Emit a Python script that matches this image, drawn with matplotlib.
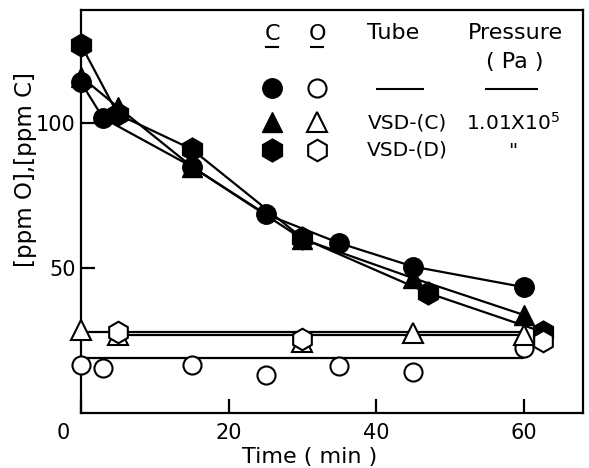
import matplotlib
matplotlib.use("Agg")
import matplotlib.pyplot as plt
import matplotlib.transforms as mtransforms
from matplotlib.lines import Line2D

plt.rcParams['font.family'] = ['DejaVu Sans']

# ---- data ----
t_circ_C = [0, 3, 15, 25, 35, 45, 60]
y_circ_C = [114, 101.7, 85, 68.6, 58.6, 50.5, 43.4]
t_tri_C = [0, 5, 15, 30, 45, 60]
y_tri_C = [116, 105.5, 85, 60, 46.5, 33.8]
t_hex_C = [0, 5, 15, 30, 47, 62.6]
y_hex_C = [127, 103, 91, 60.3, 41.4, 27.9]

t_circ_O = [0, 3, 15, 25, 35, 45, 60]
y_circ_O = [16.5, 15.5, 16.5, 13.1, 16.2, 14.1, 22.4]
t_tri_O = [0, 5, 30, 45, 60]
y_tri_O = [28.6, 27, 24.5, 27.6, 27]
t_hex_O = [5, 30, 62.6]
y_hex_O = [28, 25.5, 25]

# horizontal fit lines for O series: (level, start, end)
circ_O_fit = (19, 0, 60)
tri_O_fit = (27.8, 0, 60.5)
hex_O_fit = (26.8, 5, 60.5)

xticks = [0, 20, 40, 60]
yticks = [50, 100]

W, H = 589, 468
fig = plt.figure(figsize=(W / 100, H / 100), dpi=100)
ax = fig.add_axes([81 / W, 1 - 413 / H, (583 - 81) / W, (413 - 10) / H])
ax.set_xlim(0, 68)
ax.set_ylim(0, 139)

lw = 1.6
# C curves (filled)
ax.plot(t_circ_C, y_circ_C, '-', color='k', lw=lw, zorder=2)
ax.plot(t_tri_C, y_tri_C, '-', color='k', lw=lw, zorder=2)
ax.plot(t_hex_C, y_hex_C, '-', color='k', lw=lw, zorder=2)
ax.plot(t_circ_C, y_circ_C, 'o', color='k', ms=14, zorder=3, clip_on=False)
ax.plot(t_tri_C, y_tri_C, '^', color='k', ms=14, zorder=3, clip_on=False)
ax.plot(t_hex_C, y_hex_C, 'h', color='k', ms=16.5, zorder=3, clip_on=False)

# O fits
for lev, a, b in (circ_O_fit, tri_O_fit, hex_O_fit):
    ax.hlines(lev, a, b, color='k', lw=lw, zorder=2)
ax.plot(t_circ_O, y_circ_O, 'o', mfc='white', mec='k', mew=1.5, ms=13, zorder=3, clip_on=False)
ax.plot(t_tri_O, y_tri_O, '^', mfc='white', mec='k', mew=1.5, ms=14, zorder=3, clip_on=False)
ax.plot(t_hex_O, y_hex_O, 'h', mfc='white', mec='k', mew=1.5, ms=15.5, zorder=3, clip_on=False)

# axes styling
for s in ax.spines.values():
    s.set_linewidth(1.6)
ax.set_xticks(xticks)
ax.set_yticks(yticks)
ax.set_xticklabels([str(v) for v in xticks])
ax.set_yticklabels([str(v) for v in yticks])
ax.tick_params(direction='in', length=10, width=1.6, labelsize=15, pad=4)
ax.tick_params(axis='x', pad=7)
# shift the "0" label left like the reference
lbl0 = ax.get_xticklabels()[0]
lbl0.set_transform(lbl0.get_transform() + mtransforms.ScaledTranslation(-18 / 100, 0, fig.dpi_scale_trans))

ax.set_xlabel('Time ( min )', fontsize=16)
ax.xaxis.set_label_coords((310 - 81) / (583 - 81), -0.085)
ax.set_ylabel('[ppm O],[ppm C]', fontsize=16.5)
ax.yaxis.set_label_coords(-0.088, (413 - 170) / 403)


# ---- legend table (figure pixel coords) ----
def fx(x):
    return x / W


def fy(y):
    return 1 - y / H


fs = 14.5
fh = 16
tf = fig.transFigure
fig.text(fx(272), fy(34), 'C', fontsize=fh, ha='center', va='center')
fig.text(fx(317), fy(34), 'O', fontsize=fh, ha='center', va='center')
fig.text(fx(393), fy(33), 'Tube', fontsize=fh, ha='center', va='center')
fig.text(fx(515), fy(33), 'Pressure', fontsize=fh, ha='center', va='center')
fig.text(fx(515), fy(62), '( Pa )', fontsize=fh, ha='center', va='center')
for xc in (272, 317):
    fig.add_artist(Line2D([fx(xc - 6), fx(xc + 6)], [fy(47), fy(47)], color='k', lw=1.5, transform=tf))
fig.add_artist(Line2D([fx(377), fx(423)], [fy(89), fy(89)], color='k', lw=1.5, transform=tf))
fig.add_artist(Line2D([fx(486), fx(537)], [fy(89), fy(89)], color='k', lw=1.5, transform=tf))

rows_y = [88, 122, 150]
mk = ['o', '^', 'h']
msz_f = [14, 14, 16.5]
msz_o = [13, 14, 15.5]
for yy, m, a, b in zip(rows_y, mk, msz_f, msz_o):
    fig.add_artist(Line2D([fx(272)], [fy(yy)], marker=m, color='k', ms=a, ls='none', transform=tf))
    fig.add_artist(Line2D([fx(317)], [fy(yy)], marker=m, mfc='white', mec='k', mew=1.5,
                          ms=b, ls='none', transform=tf))
fig.text(fx(407), fy(123), 'VSD-(C)', fontsize=fs, ha='center', va='center')
fig.text(fx(513), fy(123), '1.01X10$^5$', fontsize=fs, ha='center', va='center')
fig.text(fx(407), fy(150), 'VSD-(D)', fontsize=fs, ha='center', va='center')
fig.text(fx(513), fy(152), '"', fontsize=fs, ha='center', va='center')

fig.savefig('out.png', dpi=100)
